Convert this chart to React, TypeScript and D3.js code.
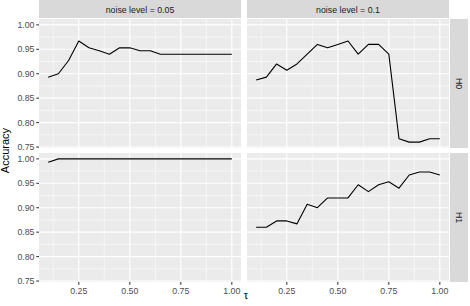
import React from "react";
import * as d3 from "d3";

const taus = [0.1, 0.15, 0.2, 0.25, 0.3, 0.35, 0.4, 0.45, 0.5, 0.55, 0.6, 0.65, 0.7, 0.75, 0.8, 0.85, 0.9, 0.95, 1.0];
const noiseLevels = ["0.05", "0.1"];
const hypotheses = ["H0", "H1"];

const accH0n005 = [0.893, 0.9, 0.927, 0.967, 0.953, 0.947, 0.94, 0.953, 0.953, 0.947, 0.947, 0.94, 0.94, 0.94, 0.94, 0.94, 0.94, 0.94, 0.94];
const accH0n01 = [0.887, 0.893, 0.92, 0.907, 0.92, 0.94, 0.96, 0.953, 0.96, 0.967, 0.94, 0.96, 0.96, 0.94, 0.767, 0.76, 0.76, 0.767, 0.767];
const accH1n005 = [0.993, 1.0, 1.0, 1.0, 1.0, 1.0, 1.0, 1.0, 1.0, 1.0, 1.0, 1.0, 1.0, 1.0, 1.0, 1.0, 1.0, 1.0, 1.0];
const accH1n01 = [0.86, 0.86, 0.873, 0.873, 0.867, 0.907, 0.9, 0.92, 0.92, 0.92, 0.947, 0.933, 0.947, 0.953, 0.94, 0.967, 0.973, 0.973, 0.967];

const xTicks = [0.25, 0.5, 0.75, 1.0];
const xMinor = [0.125, 0.375, 0.625, 0.875];
const yTicks = [0.75, 0.8, 0.85, 0.9, 0.95, 1.0];
const yMinor = [0.775, 0.825, 0.875, 0.925, 0.975];

const series: number[][][] = [
  [accH0n005, accH0n01],
  [accH1n005, accH1n01],
];

const W = 470;
const H = 306;
const colX = [[39, 241], [247, 449]];
const rowY = [[19, 148], [153, 282]];
const font = "'Liberation Sans', Arial, Helvetica, sans-serif";

export default function App() {
  const all = series.flat(2);
  const ymin = d3.min(all)!;
  const ymax = d3.max(all)!;
  const yr = ymax - ymin;
  const xr = d3.max(taus)! - d3.min(taus)!;
  const xDom: [number, number] = [d3.min(taus)! - 0.05 * xr, d3.max(taus)! + 0.05 * xr];
  const yDom: [number, number] = [ymin - 0.05 * yr, ymax + 0.05 * yr];

  const panels: JSX.Element[] = [];
  series.forEach((rowSeries, ri) => {
    rowSeries.forEach((vals, ci) => {
      const [x0, x1] = colX[ci];
      const [y0, y1] = rowY[ri];
      const x = d3.scaleLinear().domain(xDom).range([x0, x1]);
      const y = d3.scaleLinear().domain(yDom).range([y1, y0]);
      const line = d3
        .line<number>()
        .x((_, i) => x(taus[i]))
        .y((v) => y(v));
      panels.push(
        <g key={`p${ri}${ci}`}>
          <rect x={x0} y={y0} width={x1 - x0} height={y1 - y0} fill="#EBEBEB" />
          {yMinor.map((t) => (
            <line key={`ym${t}`} x1={x0} x2={x1} y1={y(t)} y2={y(t)} stroke="#fff" strokeWidth={0.55} />
          ))}
          {xMinor.map((t) => (
            <line key={`xm${t}`} y1={y0} y2={y1} x1={x(t)} x2={x(t)} stroke="#fff" strokeWidth={0.55} />
          ))}
          {yTicks.map((t) => (
            <line key={`yM${t}`} x1={x0} x2={x1} y1={y(t)} y2={y(t)} stroke="#fff" strokeWidth={1.1} />
          ))}
          {xTicks.map((t) => (
            <line key={`xM${t}`} y1={y0} y2={y1} x1={x(t)} x2={x(t)} stroke="#fff" strokeWidth={1.1} />
          ))}
          <path d={line(vals) || ""} fill="none" stroke="#000" strokeWidth={1.1} strokeLinejoin="round" />
          {ci === 0 &&
            yTicks.map((t) => (
              <g key={`yt${t}`}>
                <line x1={x0 - 2.7} x2={x0} y1={y(t)} y2={y(t)} stroke="#333" strokeWidth={1.07} />
                <text x={x0 - 4.5} y={y(t)} dy="0.35em" textAnchor="end" fontSize={8.8} fill="#4D4D4D" fontFamily={font}>
                  {t.toFixed(2)}
                </text>
              </g>
            ))}
          {ri === 1 &&
            xTicks.map((t) => (
              <g key={`xt${t}`}>
                <line x1={x(t)} x2={x(t)} y1={y1} y2={y1 + 2.7} stroke="#333" strokeWidth={1.07} />
                <text x={x(t)} y={y1 + 4.5} dy="0.8em" textAnchor="middle" fontSize={8.8} fill="#4D4D4D" fontFamily={font}>
                  {t.toFixed(2)}
                </text>
              </g>
            ))}
        </g>
      );
    });
  });

  return (
    <div style={{ position: "fixed", left: 0, top: 0 }}>
      <svg width={W} height={H} style={{ display: "block", background: "#fff" }}>
        {panels}
        {noiseLevels.map((n, ci) => (
          <g key={`s${n}`}>
            <rect x={colX[ci][0]} y={0} width={colX[ci][1] - colX[ci][0]} height={18} fill="#D9D9D9" />
            <text
              x={(colX[ci][0] + colX[ci][1]) / 2}
              y={9.5}
              dy="0.35em"
              textAnchor="middle"
              fontSize={8.8}
              fill="#1A1A1A"
              fontFamily={font}
            >
              {`noise level = ${n}`}
            </text>
          </g>
        ))}
        {hypotheses.map((h, ri) => {
          const cy = (rowY[ri][0] + rowY[ri][1]) / 2;
          return (
            <g key={`h${h}`}>
              <rect x={450} y={rowY[ri][0]} width={18} height={rowY[ri][1] - rowY[ri][0]} fill="#D9D9D9" />
              <text
                transform={`translate(459,${cy}) rotate(90)`}
                dy="0.35em"
                textAnchor="middle"
                fontSize={8.8}
                fill="#1A1A1A"
                fontFamily={font}
              >
                {h}
              </text>
            </g>
          );
        })}
        <text
          transform={`translate(5.5,${(rowY[0][0] + rowY[1][1]) / 2}) rotate(-90)`}
          dy="0.35em"
          textAnchor="middle"
          fontSize={11}
          fill="#000"
          fontFamily={font}
        >
          Accuracy
        </text>
        <text
          x={(colX[0][0] + colX[1][1]) / 2 + 2}
          y={299}
          textAnchor="middle"
          fontSize={12}
          fill="#000"
          fontFamily="'Liberation Serif', 'DejaVu Serif', serif"
        >
          τ
        </text>
      </svg>
    </div>
  );
}
